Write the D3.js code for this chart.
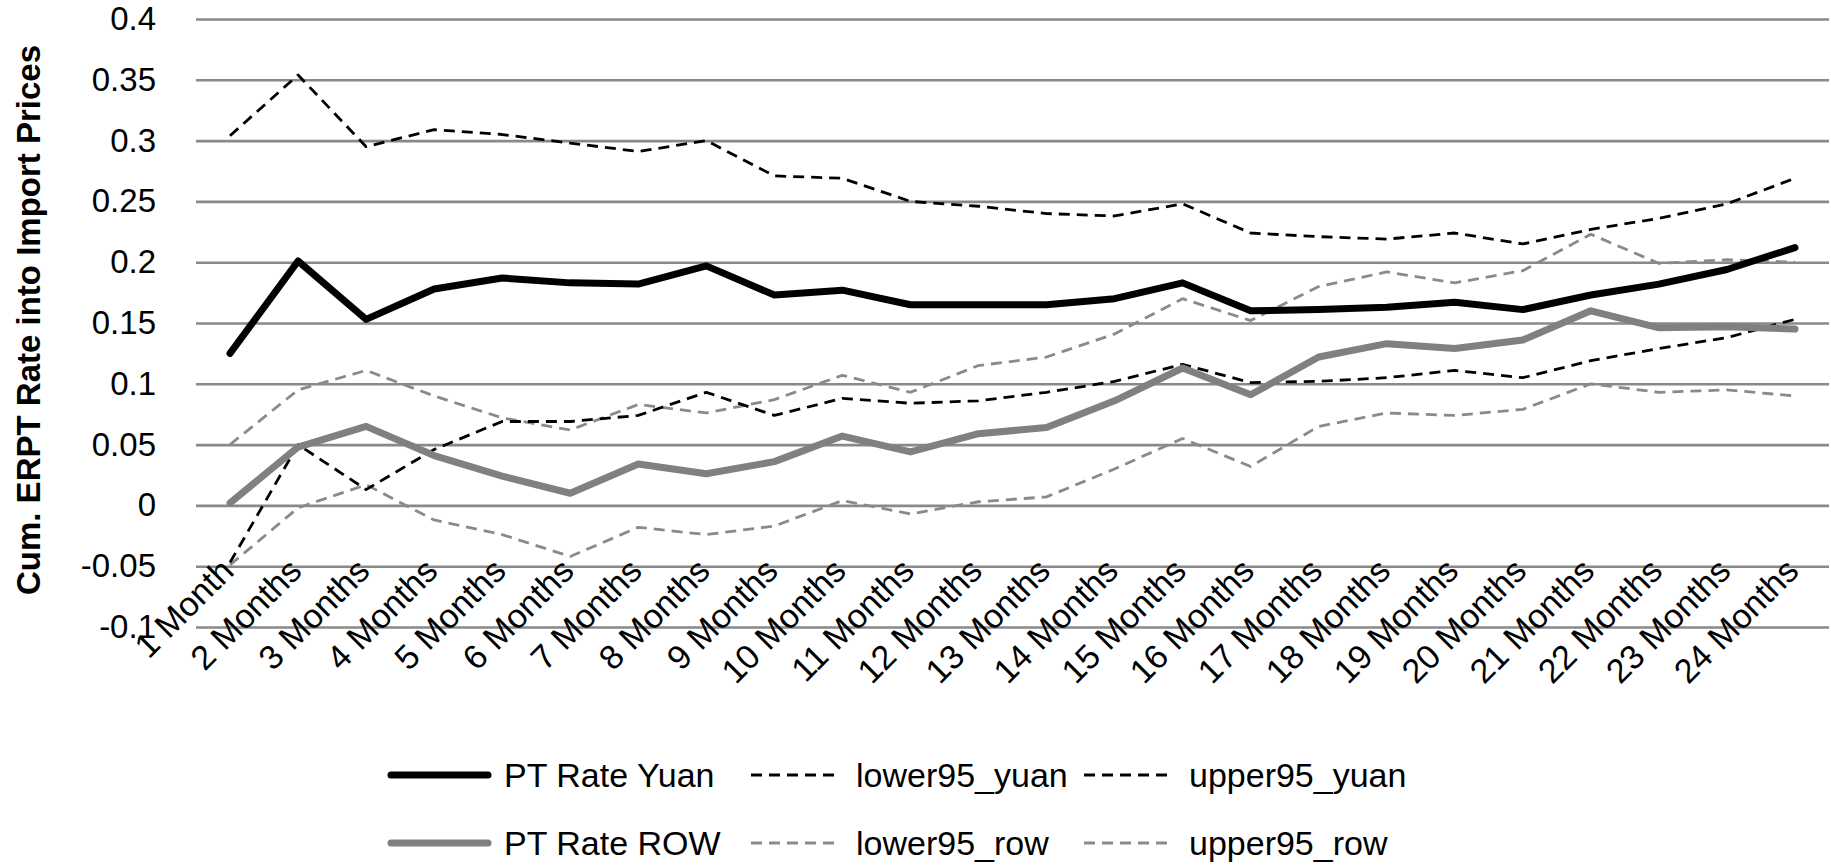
<!DOCTYPE html>
<html>
<head>
<meta charset="utf-8">
<script src="https://cdn.jsdelivr.net/npm/d3@7"></script>
<style>
  body { margin: 0; background: #fff; }
  text { font-family: "Liberation Sans", Arial, sans-serif; }
</style>
</head>
<body>
<div id="chart"></div>
<script>
// data
var months = ["1 Month", "2 Months", "3 Months", "4 Months", "5 Months", "6 Months",
  "7 Months", "8 Months", "9 Months", "10 Months", "11 Months", "12 Months",
  "13 Months", "14 Months", "15 Months", "16 Months", "17 Months", "18 Months",
  "19 Months", "20 Months", "21 Months", "22 Months", "23 Months", "24 Months"];

var ptYuan = [0.125, 0.201, 0.153, 0.178, 0.187, 0.183, 0.182, 0.197, 0.173, 0.177, 0.165, 0.165,
  0.165, 0.170, 0.183, 0.160, 0.161, 0.163, 0.167, 0.161, 0.173, 0.182, 0.194, 0.212];
var lowerYuan = [-0.047, 0.050, 0.013, 0.046, 0.069, 0.069, 0.074, 0.093, 0.074, 0.088, 0.084, 0.086,
  0.093, 0.102, 0.116, 0.101, 0.102, 0.105, 0.111, 0.105, 0.119, 0.129, 0.138, 0.153];
var upperYuan = [0.304, 0.354, 0.295, 0.309, 0.305, 0.298, 0.291, 0.300, 0.271, 0.269, 0.250, 0.246,
  0.240, 0.238, 0.248, 0.224, 0.221, 0.219, 0.224, 0.215, 0.227, 0.236, 0.248, 0.269];
var ptRow = [0.002, 0.048, 0.065, 0.041, 0.024, 0.010, 0.034, 0.026, 0.036, 0.057, 0.044, 0.059,
  0.064, 0.086, 0.113, 0.091, 0.122, 0.133, 0.129, 0.136, 0.160, 0.146, 0.147, 0.145];
var lowerRow = [-0.049, -0.002, 0.017, -0.012, -0.024, -0.042, -0.018, -0.024, -0.017, 0.004, -0.007, 0.003,
  0.007, 0.030, 0.055, 0.032, 0.065, 0.076, 0.074, 0.079, 0.100, 0.093, 0.095, 0.090];
var upperRow = [0.050, 0.095, 0.111, 0.090, 0.072, 0.062, 0.083, 0.076, 0.087, 0.107, 0.093, 0.115,
  0.122, 0.141, 0.170, 0.152, 0.180, 0.192, 0.183, 0.193, 0.223, 0.199, 0.202, 0.200];

var yTicks = [-0.1, -0.05, 0, 0.05, 0.1, 0.15, 0.2, 0.25, 0.3, 0.35, 0.4];
var yTickLabels = ["-0.1", "-0.05", "0", "0.05", "0.1", "0.15", "0.2", "0.25", "0.3", "0.35", "0.4"];

var yTitle = "Cum. ERPT Rate into Import Prices";

var svgWidth = 1831;
var svgHeight = 865;

var margin = {top: 19, right: 2, bottom: 238, left: 196};
var width = svgWidth - margin.left - margin.right;
var height = svgHeight - margin.top - margin.bottom;

var svg = d3.select("#chart").append("svg")
  .attr("width", svgWidth).attr("height", svgHeight)
  .style("display", "block");

svg.append("rect").attr("width", svgWidth).attr("height", svgHeight).attr("fill", "#fff");

var chartGroup = svg.append("g").attr("transform", `translate(${margin.left}, ${margin.top})`);

var x = d3.scalePoint().domain(months).range([0, width]).padding(0.5);
var y = d3.scaleLinear().domain([-0.1, 0.4]).range([height, 0]);

// gridlines + y labels
var leftAxis = d3.axisLeft(y)
  .tickValues(yTicks)
  .tickSize(-width)
  .tickPadding(40)
  .tickFormat(function(d, i) { return yTickLabels[i]; });

var yAxisG = chartGroup.append("g").call(leftAxis);
yAxisG.select(".domain").remove();
yAxisG.selectAll(".tick line").attr("stroke", "#898989").attr("stroke-width", 2.6);
yAxisG.selectAll(".tick text")
  .attr("fill", "#000")
  .style("font-size", "33px");

// x labels, rotated
var bottomAxis = d3.axisBottom(x).tickSize(0).tickPadding(0);
var xAxisG = chartGroup.append("g")
  .attr("transform", `translate(0, ${height})`)
  .call(bottomAxis);
xAxisG.select(".domain").remove();
xAxisG.selectAll(".tick text")
  .attr("fill", "#000")
  .style("font-size", "34px")
  .attr("text-anchor", "end")
  .attr("dy", null)
  .attr("y", 0)
  .attr("transform", "translate(5, -54) rotate(-45)");

// series
var series = [
  {name: "PT Rate Yuan", values: ptYuan, color: "#000", w: 7, dash: null},
  {name: "PT Rate ROW", values: ptRow, color: "#808080", w: 7, dash: null},
  {name: "lower95_yuan", values: lowerYuan, color: "#000", w: 2.8, dash: "11,7"},
  {name: "upper95_yuan", values: upperYuan, color: "#000", w: 2.8, dash: "11,7"},
  {name: "lower95_row", values: lowerRow, color: "#8a8a8a", w: 2.8, dash: "11,7"},
  {name: "upper95_row", values: upperRow, color: "#8a8a8a", w: 2.8, dash: "11,7"}
];

var line = d3.line()
  .x(function(d, i) { return x(months[i]); })
  .y(function(d) { return y(d); });

// dashed under, thick solid lines on top
var drawOrder = [4, 5, 2, 3, 1, 0];
drawOrder.forEach(function(k) {
  var s = series[k];
  chartGroup.append("path")
    .datum(s.values)
    .attr("d", line)
    .attr("fill", "none")
    .attr("stroke", s.color)
    .attr("stroke-width", s.w)
    .attr("stroke-linejoin", "round")
    .attr("stroke-linecap", s.dash ? "butt" : "round")
    .attr("stroke-dasharray", s.dash);
});

// y title
svg.append("text")
  .attr("transform", "translate(40, 320) rotate(-90)")
  .attr("text-anchor", "middle")
  .style("font-size", "33px")
  .style("font-weight", "bold")
  .text(yTitle);

// legend: row 1 yuan, row 2 row
var legendRows = [[0, 2, 3], [1, 4, 5]];
var legendX = [391, 749, 1082];
var legendY = [775, 843];

legendRows.forEach(function(row, r) {
  row.forEach(function(k, c) {
    var s = series[k];
    var g = svg.append("g").attr("transform", `translate(${legendX[c]}, ${legendY[r]})`);
    g.append("line")
      .attr("x1", s.dash ? 2 : 0).attr("x2", s.dash ? 92 : 97)
      .attr("stroke", s.color)
      .attr("stroke-width", s.dash ? 2.8 : 7)
      .attr("stroke-linecap", s.dash ? "butt" : "round")
      .attr("stroke-dasharray", s.dash);
    g.append("text")
      .attr("x", c === 0 ? 113 : 107)
      .attr("dy", "0.35em")
      .style("font-size", "34px")
      .text(s.name);
  });
});
</script>
</body>
</html>
